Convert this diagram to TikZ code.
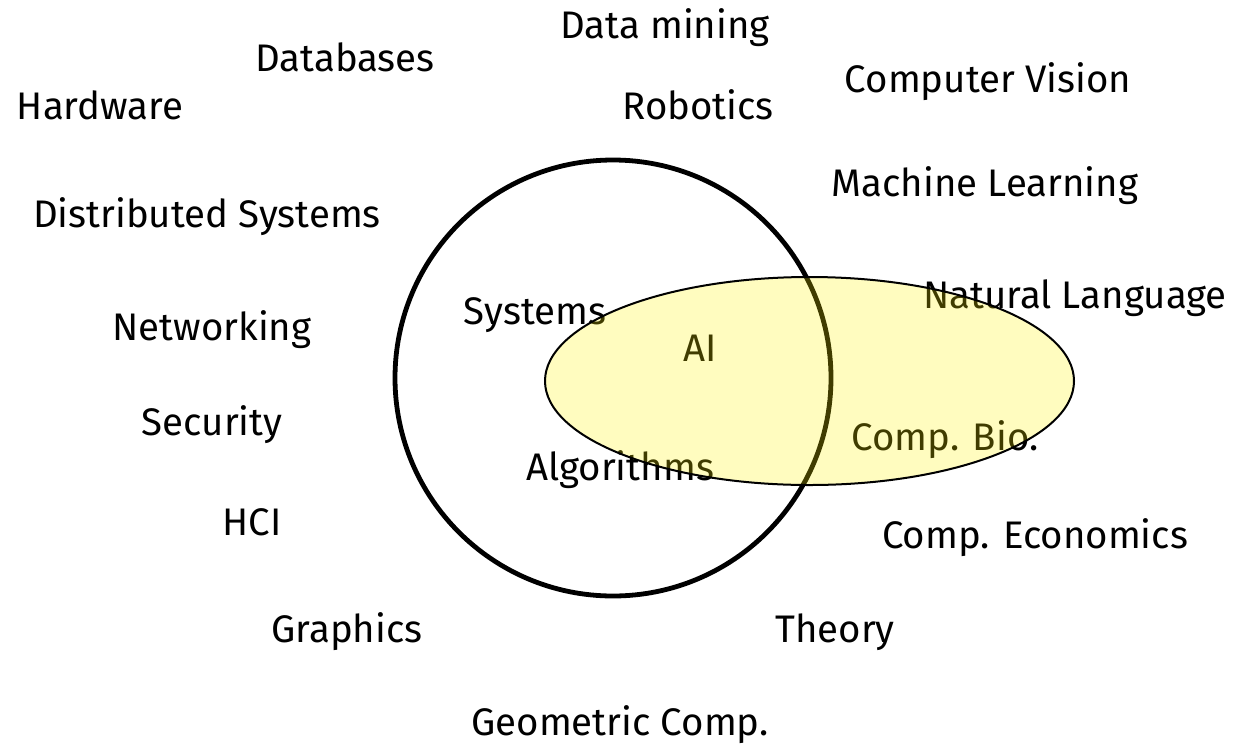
\documentclass[tikz,border=0pt]{standalone}
\usepackage{fontspec}
\setmainfont{Fira Sans}
\usepackage{tikz}

\begin{document}
\begin{tikzpicture}[x=0.5pt, y=-0.5pt,
fieldnode/.style={inner sep=0pt, font=\fontsize{19.2}{22}\selectfont},
bigcircle/.style={draw=black, line width=2.4pt},
aioval/.style={draw=black, line width=1pt, fill=yellow, fill opacity=0.25},
]
\useasboundingbox (0,0) rectangle (1247,750);
%Circle
\draw[bigcircle] (613,378) circle [radius=218];

%Nodes
\node[fieldnode] (datamining) at (665,28)  {Data mining};
\node[fieldnode] (databases)  at (345,57)  {Databases};
\node[fieldnode] (hardware)   at (100,105) {Hardware};
\node[fieldnode] (robotics)   at (698,105) {Robotics};
\node[fieldnode] (vision)     at (988,82)  {Computer Vision};
\node[fieldnode] (ml)         at (985,186) {Machine Learning};
\node[fieldnode] (distsys)    at (207,217) {Distributed Systems};
\node[fieldnode] (nlp)        at (1075,298) {Natural Language};
\node[fieldnode] (networking) at (212,330) {Networking};
\node[fieldnode] (systems)    at (535,315) {Systems};
\node[fieldnode] (ai)         at (700,348) {AI};
\node[fieldnode] (security)   at (212,425) {Security};
\node[fieldnode] (compbio)    at (945,440) {Comp. Bio.};
\node[fieldnode] (algorithms) at (620,470) {Algorithms};
\node[fieldnode] (hci)        at (252,522) {HCI};
\node[fieldnode] (compecon)   at (1035,538) {Comp. Economics};
\node[fieldnode] (graphics)   at (347,632) {Graphics};
\node[fieldnode] (theory)     at (835,632) {Theory};
\node[fieldnode] (geometric)  at (620,725) {Geometric Comp.};

%Ellipse
\draw[aioval] (809.5,381) ellipse [x radius=264.5, y radius=104];

\end{tikzpicture}
\end{document}
